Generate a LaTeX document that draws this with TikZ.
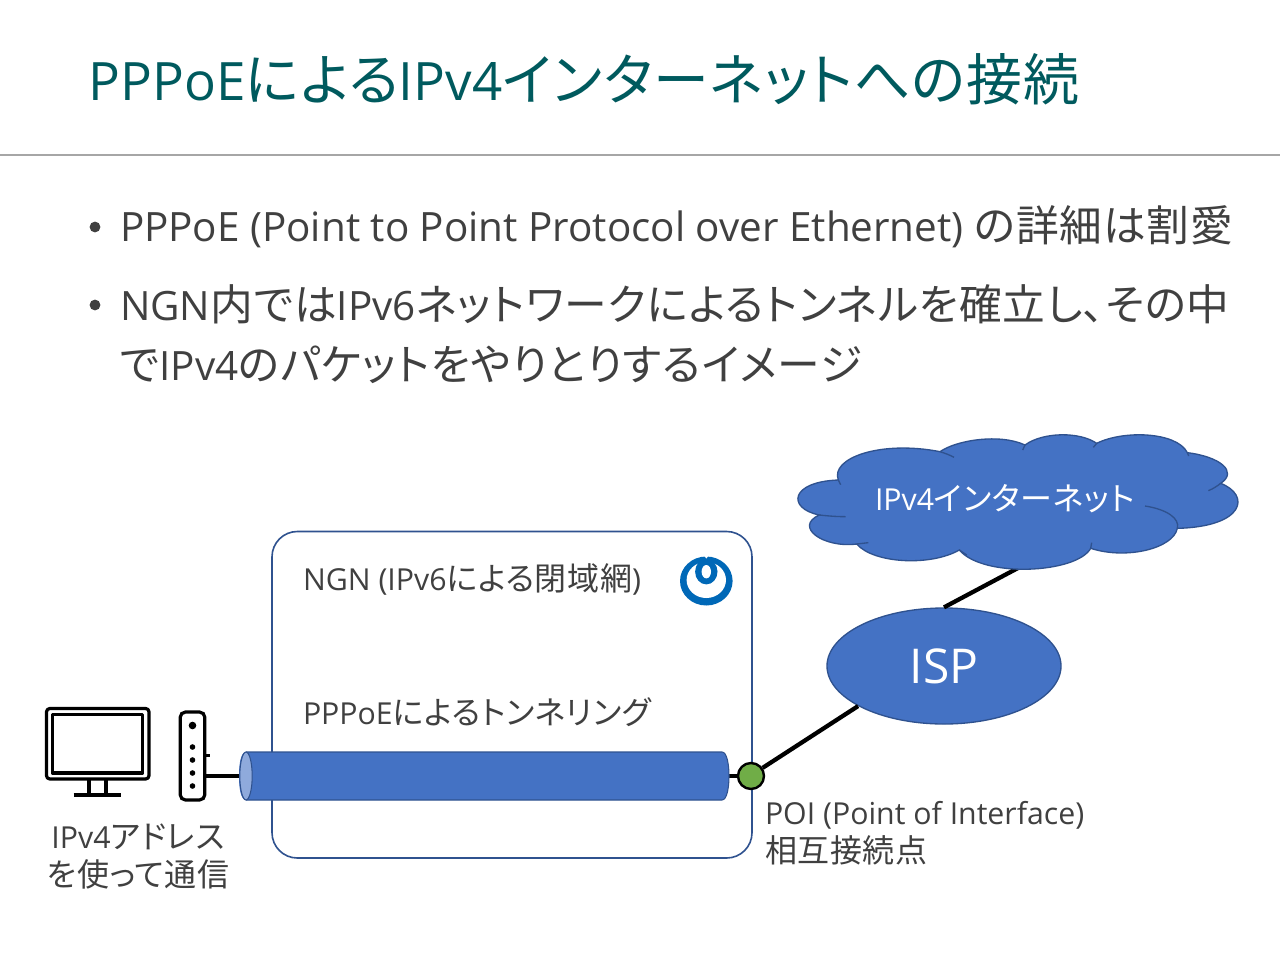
\documentclass[tikz,border=0pt]{standalone}
\usepackage{fontspec}
\setmainfont{Open Sans}
\newfontfamily\jp[RawFeature=+palt,Scale=1.057,LetterSpace=2]{Noto Sans CJK JP}
\newcommand{\J}[1]{{\jp #1}}
\usetikzlibrary{shapes.geometric}
\definecolor{titlec}{HTML}{005A5E}
\definecolor{bodyc}{HTML}{404040}
\definecolor{blue1}{HTML}{4472C4}
\definecolor{blue2}{HTML}{2F528F}
\definecolor{blue3}{HTML}{8FAADC}
\definecolor{nttc}{HTML}{0068B7}
\definecolor{greenc}{HTML}{70AD47}
\tikzset{
  txt/.style={anchor=base west,inner sep=0pt,outer sep=0pt},
  ctxt/.style={anchor=base,inner sep=0pt,outer sep=0pt},
  link/.style={draw=black,line width=3.2pt},
  icon/.style={draw=black,line width=2.4pt,line join=round},
  shapeblue/.style={fill=blue1,draw=blue2,line width=1pt},
}
\newcommand{\fs}[1]{\fontsize{#1}{#1}\selectfont}
\begin{document}
\begin{tikzpicture}[x=0.75pt,y=-0.75pt]
\useasboundingbox (0,0) rectangle (1280,960);
\fill[white] (0,0) rectangle (1280,960);
% header
\node[txt,text=titlec] (title) at (88.5,100) {\fs{39.7}PPPoE\J{による}IPv4\J{インターネットへの接続}};
\coordinate (ruleL) at (0,155);
\coordinate (ruleR) at (1280,155);
\draw[color=black!35,line width=0.9pt] (ruleL) -- (ruleR);
% bullets
\fill[bodyc] (95,227) circle (5.4);
\fill[bodyc] (95,305) circle (5.4);
\node[txt,text=bodyc] (b1) at (120,241) {\fs{30.3}PPPoE (Point to Point Protocol over Ethernet) \J{の詳細は割愛}};
\node[txt,text=bodyc] (b2) at (120,320) {\fs{30.3}NGN\J{内では}IPv6\J{ネットワークによるトンネルを確立し、その中}};
\node[txt,text=bodyc] (b3) at (120,380) {\fs{30.3}\J{で}IPv4\J{のパケットをやりとりするイメージ}};
% NGN box
\draw[draw=blue2,fill=white,line width=1.2pt,rounded corners=19pt] (272,531.5) rectangle (752,858);
\node[txt,text=bodyc] (ngn) at (303,590) {\fs{22.7}NGN (IPv6\J{による閉域網})};
\node[txt,text=bodyc] (tun) at (303,724) {\fs{22.7}PPPoE\J{によるトンネリング}};
% NTT logo
\fill[nttc] (706.3,581) ellipse (26.3 and 24.5);
\fill[white] (706.3,580) ellipse (19.7 and 18);
\fill[nttc] (706.3,571.7) ellipse (11.2 and 12.7);
\fill[white] (706.3,571.7) ellipse (4.7 and 6.7);
\fill[white] (703.5,555) -- (709.1,555) -- (706.3,558.5) -- cycle;
% monitor
\draw[icon,rounded corners=2.5pt] (46.5,708.5) rectangle (149,779);
\draw[icon] (52.5,714.5) rectangle (142.5,773);
\draw[icon] (89,779) -- (89,795) (106,779) -- (106,795) (73.5,795) -- (121,795);
% router
\node[draw=black,line width=2.4pt,rounded corners=4pt,minimum width=18.5pt,minimum height=66pt,inner sep=0pt,fill=white] (router) at (192.5,756) {};
\draw[black,line width=2pt] (router.east |- 0,755.5) -- ++(4,0);
\foreach \yy/\rr in {725.5/3.8,747/2.8,760/2.8,773/2.8,786/2.8} \fill[black] (192.5,\yy) circle (\rr);
% tunnel
\node[minimum width=362pt,minimum height=36pt,inner sep=0pt] (tunnel) at (487.5,776) {};
\node[circle,draw=black,line width=1.8pt,fill=greenc,minimum size=19.5pt,inner sep=0pt] (poi) at (751,776) {};
\draw[link] (router.east |- tunnel.west) -- (240,776);
\draw[link] (729,776) -- (poi.west);
\fill[blue1] (246,752) -- (722,752) .. controls (727,752) and (729,765) .. (729,776) .. controls (729,787) and (727,800) .. (722,800) -- (246,800) .. controls (240,800) and (239,785) .. (239,776) .. controls (239,767) and (240,752) .. (246,752) -- cycle;
\draw[blue2,line width=0.8pt] (246,752) -- (722,752) .. controls (727,752) and (729,765) .. (729,776) .. controls (729,787) and (727,800) .. (722,800) -- (246,800);
\draw[draw=blue2,fill=blue3,line width=0.8pt] (246,776) ellipse (6.2 and 24);
% ISP
\node[ellipse,shapeblue,minimum width=175.5pt,minimum height=87pt,inner sep=0pt,text=white] (isp) at (944,666) {\fs{36}ISP};
% connectors to ISP
\coordinate (cloudfoot) at (1018,568);
\draw[link] (poi.35) -- (isp.205);
\draw[link] (isp.north) -- (cloudfoot);
% cloud
\begin{scope}[shift={(780,420)},x=0.25pt,y=-0.25pt]
\path[shapeblue] (175,180)
  .. controls (150,115) and (300,60) .. (480,95)
  .. controls (530,60) and (660,40) .. (735,75)
  .. controls (790,35) and (900,35) .. (950,70)
  .. controls (1030,30) and (1190,35) .. (1222,98)
  .. controls (1320,110) and (1375,155) .. (1322,190)
  .. controls (1412,225) and (1395,320) .. (1192,325)
  .. controls (1180,385) and (1040,420) .. (932,385)
  .. controls (890,460) and (610,475) .. (538,390)
  .. controls (450,440) and (280,430) .. (230,372)
  .. controls (130,385) and (40,320) .. (118,285)
  .. controls (20,265) and (30,185) .. (175,180) -- cycle;
\draw[blue2,line width=1pt] (480,95) .. controls (495,100) and (510,105) .. (522,112)
  (735,75) -- (728,90)
  (950,70) -- (940,82)
  (1222,98) -- (1226,108)
  (1322,190) .. controls (1312,198) and (1300,206) .. (1285,212)
  (1095,258) .. controls (1160,268) and (1200,295) .. (1192,325)
  (932,385) -- (935,368)
  (538,390) -- (560,405)
  (230,372) -- (265,368)
  (118,285) .. controls (145,288) and (170,290) .. (197,290)
  (175,180) -- (182,194);
\end{scope}
\node[txt,text=white] (cloud) at (875,510) {\fs{22.7}IPv4\J{インターネット}};
% labels
\node[txt,text=bodyc] (poi1) at (765,824) {\fs{22.7}POI (Point of Interface)};
\node[txt,text=bodyc] (poi2) at (765,862) {\fs{22.7}\J{相互接続点}};
\node[ctxt,text=bodyc] (ip1) at (138,848) {\fs{22.7}IPv4\J{アドレス}};
\node[ctxt,text=bodyc] (ip2) at (138,886) {\fs{22.7}\J{を使って通信}};
\end{tikzpicture}
\end{document}
